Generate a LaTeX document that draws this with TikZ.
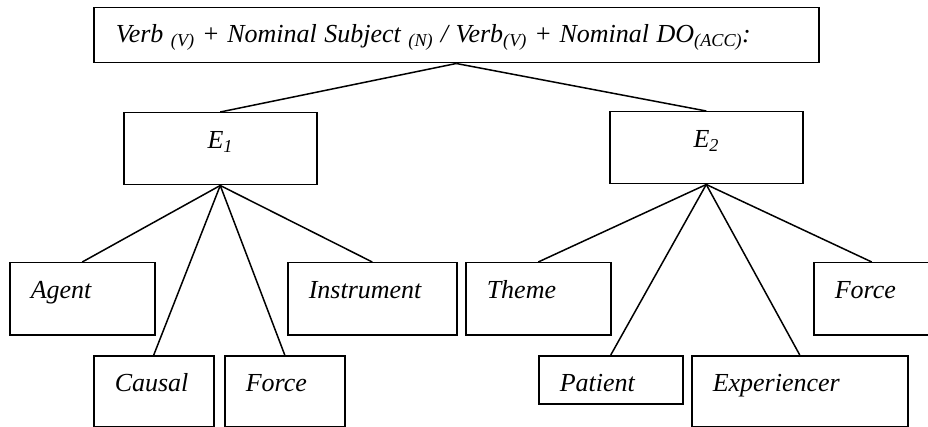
\documentclass[tikz,border=0pt]{standalone}
\usepackage{fontspec}
\setmainfont{Liberation Serif}
\usepackage{tikz}
\usetikzlibrary{positioning}
\tikzstyle{box} = [rectangle, draw=black, line width=1.5pt, inner ysep=0pt, inner xsep=21pt, anchor=north west, font=\fontsize{26}{30}\selectfont\itshape]
\tikzstyle{rootbox} = [box, inner xsep=22pt, align=left, text height=35pt, text depth=20pt, execute at begin node={\spaceskip=0.29em\relax}]
\tikzstyle{eventbox} = [box, align=center, text height=36pt, text depth=36pt]
\tikzstyle{leaf} = [box, align=left, text height=36pt, text depth=36pt]
\tikzstyle{smallleaf} = [box, align=left, text height=36pt, text depth=12pt]
\tikzstyle{link} = [line width=1.5pt]

\begin{document}
\begin{tikzpicture}[x=1pt, y=-1pt]
                        \useasboundingbox (0,0) rectangle (928,427);
                        \node (root) [rootbox, text width=681pt] at (93,7) {Verb \textsubscript{(V)} + Nominal Subject \textsubscript{(N)} / Verb\textsubscript{(V)} + Nominal DO\textsubscript{(ACC)}:};
                        \node (E1) [eventbox, text width=151pt] at (123,112) {E\textsubscript{1}};
                        \node (E2) [eventbox, text width=151pt] at (609,111) {E\textsubscript{2}};
                        % roles of E1
                        \node (agent) [leaf, text width=103pt] at (9,262) {Agent};
                        \node (causal) [leaf, text width=78pt, text depth=35pt] at (93,355) {Causal};
                        \node (forceA) [leaf, text width=78pt, text depth=35pt] at (224,355) {Force};
                        \node (instr) [leaf, text width=127pt] at (287,262) {Instrument};
                        % roles of E2
                        \node (theme) [leaf, text width=103pt] at (465,262) {Theme};
                        \node (patient) [smallleaf, text width=102pt] at (538,355) {Patient};
                        \node (exper) [leaf, text width=174pt, text depth=35pt] at (691,355) {Experiencer};
                        \node (forceB) [leaf, text width=74pt] at (813,262) {Force};
                        \draw [link] (root.south) -- (E1.north);
                        \draw [link] (root.south) -- (E2.north);
                        \draw [link] (E1.south) -- (agent.north);
                        \draw [link] (E1.south) -- (causal.north);
                        \draw [link] (E1.south) -- (forceA.north);
                        \draw [link] (E1.south) -- (instr.north);
                        \draw [link] (E2.south) -- (theme.north);
                        \draw [link] (E2.south) -- (patient.north);
                        \draw [link] (E2.south) -- (exper.north);
                        \draw [link] (E2.south) -- (forceB.north);
                    \end{tikzpicture}
\end{document}
